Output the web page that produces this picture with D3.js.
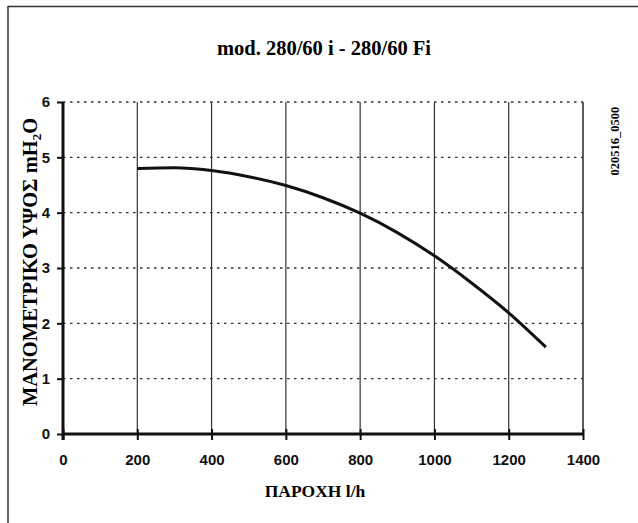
<!DOCTYPE html>
<html><head><meta charset="utf-8">
<script src="https://cdn.jsdelivr.net/npm/d3@7"></script>
<style>body{margin:0;background:#fff}svg{display:block}</style>
</head><body>
<script>
const title = "mod. 280/60 i - 280/60 Fi";
const xLabel = "ΠΑΡΟΧΗ l/h";
const yLabel = "ΜΑΝΟΜΕΤΡΙΚΟ ΥΨΟΣ";
const code = "020516_0500";
const xTicks = [0,200,400,600,800,1000,1200,1400];
const yTicks = [0,1,2,3,4,5,6];
const flow = [200,300,400,500,600,700,800,900,1000,1100,1200,1300];
const head = [4.80,4.81,4.76,4.65,4.49,4.27,3.99,3.64,3.22,2.73,2.19,1.57];

const W=638,H=523;
const svg=d3.select("body").append("svg").attr("width",W).attr("height",H);
const x=d3.scaleLinear().domain([0,1400]).range([63,583]);
const y=d3.scaleLinear().domain([0,6]).range([434,102]);

// frame
svg.append("line").attr("x1",8).attr("x2",W).attr("y1",6.5).attr("y2",6.5).attr("stroke","#333").attr("stroke-width",1.5);
svg.append("line").attr("x1",8).attr("x2",8).attr("y1",6).attr("y2",H).attr("stroke","#333").attr("stroke-width",1.5);

// title
svg.append("text").attr("x",324).attr("y",55).attr("text-anchor","middle")
  .attr("font-family","Liberation Serif").attr("font-weight","bold").attr("font-size",20.5).text(title);

// horizontal dotted grid
svg.append("g").selectAll("line").data(yTicks.filter(d=>d>0)).join("line")
  .attr("x1",x(0)).attr("x2",x(1400)).attr("y1",d=>y(d)).attr("y2",d=>y(d))
  .attr("stroke","#333").attr("stroke-width",1.3).attr("stroke-dasharray","2.5,4.5");
// vertical grid
svg.append("g").selectAll("line").data(xTicks.filter(d=>d>0)).join("line")
  .attr("x1",d=>x(d)).attr("x2",d=>x(d)).attr("y1",y(6)).attr("y2",y(0))
  .attr("stroke","#333").attr("stroke-width",d=>d===1400?1.6:1.2);

// axes
const xAxis=svg.append("g").attr("transform",`translate(0,${y(0)})`)
  .call(d3.axisBottom(x).tickValues(xTicks).tickFormat(d3.format("d")).tickSize(6).tickPadding(14));
xAxis.select(".domain").attr("stroke","#111").attr("stroke-width",3).attr("d",`M${x(0)},0H${x(1400)}`);
xAxis.selectAll(".tick line").attr("stroke","#111").attr("stroke-width",2).attr("y1",-5);
xAxis.selectAll(".tick text").attr("font-family","Liberation Sans").attr("font-weight","bold").attr("font-size",15).attr("fill","#111");

const yAxis=svg.append("g").attr("transform",`translate(${x(0)},0)`)
  .call(d3.axisLeft(y).tickValues(yTicks).tickFormat(d3.format("d")).tickSize(6).tickPadding(7));
yAxis.select(".domain").attr("stroke","#111").attr("stroke-width",3).attr("d",`M0,${y(6)}V${y(0)+6}`);
yAxis.selectAll(".tick line").attr("stroke","#111").attr("stroke-width",2);
yAxis.selectAll(".tick text").attr("font-family","Liberation Sans").attr("font-weight","bold").attr("font-size",15).attr("fill","#111");

// curve
const line=d3.line().x((d,i)=>x(flow[i])).y(d=>y(d)).curve(d3.curveMonotoneX);
svg.append("path").attr("d",line(head)).attr("fill","none").attr("stroke","#111").attr("stroke-width",3);

// x label
svg.append("text").attr("x",315).attr("y",497).attr("text-anchor","middle")
  .attr("font-family","Liberation Serif").attr("font-weight","bold").attr("font-size",17.5).text(xLabel);

// y label
const yl=svg.append("text").attr("transform","translate(37,262) rotate(-90)").attr("text-anchor","middle")
  .attr("font-family","Liberation Serif").attr("font-weight","bold").attr("font-size",20.5);
yl.append("tspan").text(yLabel+"  mH");
yl.append("tspan").attr("font-size",13).attr("dy",4).text("2");
yl.append("tspan").attr("dy",-4).text("O");

// code
svg.append("text").attr("transform","translate(619,141) rotate(-90)").attr("text-anchor","middle")
  .attr("font-family","Liberation Serif").attr("font-weight","bold").attr("font-size",12.5).text(code);
</script>
</body></html>
